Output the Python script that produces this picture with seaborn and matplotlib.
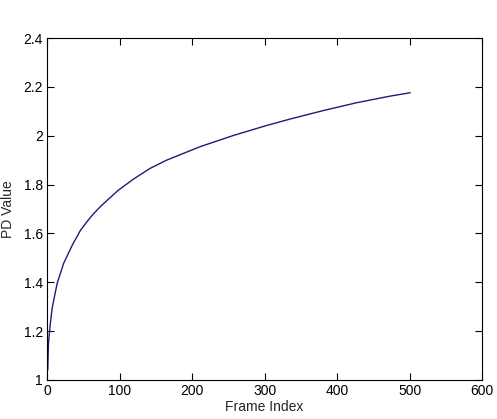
"""
PD value vs frame index, MATLAB-style line chart
"""
import numpy as np
import pandas as pd
import matplotlib
matplotlib.use('Agg')
import matplotlib.pyplot as plt
import seaborn as sns

# values
frame_index = [1, 2, 4, 7, 14, 23, 35, 46, 55, 64, 73, 82, 98, 119, 142, 165,
               211, 257, 303, 335, 381, 427, 473, 501]
pd_value = [1.04, 1.15, 1.215, 1.293, 1.396, 1.478, 1.553, 1.612, 1.648, 1.680,
            1.708, 1.733, 1.776, 1.822, 1.866, 1.900, 1.955, 2.001, 2.042, 2.068,
            2.103, 2.135, 2.162, 2.176]

x_ticks = [0, 100, 200, 300, 400, 500, 600]
y_ticks = [1, 1.2, 1.4, 1.6, 1.8, 2, 2.2, 2.4]
y_tick_labels = ['1', '1.2', '1.4', '1.6', '1.8', '2', '2.2', '2.4']

df = pd.DataFrame({'frame': frame_index, 'pd': pd_value})

sns.set_style('ticks')
plt.rcParams['font.family'] = ['Liberation Sans', 'DejaVu Sans']
plt.rcParams['font.size'] = 10

fig = plt.figure(figsize=(4.97, 4.19), dpi=100)
ax = fig.add_axes([0.0946, 0.0931, 0.8754, 0.8162])

sns.lineplot(data=df, x='frame', y='pd', color='#1c1c78', linewidth=1.0, ax=ax)

ax.set_xlim(0, 600)
ax.set_ylim(1, 2.4)
ax.set_xticks(x_ticks)
ax.set_yticks(y_ticks)
ax.set_yticklabels(y_tick_labels)
ax.tick_params(direction='in', length=5, width=0.8, top=True, right=True,
               labelsize=10, colors='black', pad=3)
for side in ['top', 'right', 'bottom', 'left']:
    ax.spines[side].set_visible(True)
    ax.spines[side].set_linewidth(0.8)
    ax.spines[side].set_color('black')

ax.set_xlabel('Frame Index', fontsize=10, labelpad=1)
ax.set_ylabel('PD Value', fontsize=10, labelpad=6)

fig.savefig('out.png', dpi=100)
